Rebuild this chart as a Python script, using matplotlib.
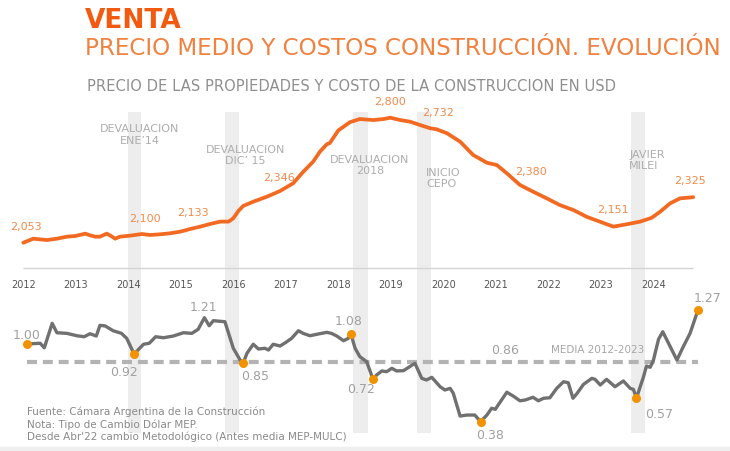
import matplotlib
matplotlib.use('Agg')
import matplotlib.pyplot as plt
from matplotlib.patches import Rectangle
from matplotlib.transforms import blended_transform_factory

# precio medio de venta (USD/m2)
price_years = [2012.00, 2012.19, 2012.32, 2012.45, 2012.64, 2012.83, 2012.99, 2013.18, 2013.27, 2013.37,
               2013.46, 2013.59, 2013.65, 2013.75, 2013.84, 2014.03, 2014.26, 2014.41, 2014.60, 2014.79,
               2014.99, 2015.18, 2015.37, 2015.56, 2015.75, 2015.91, 2016.00, 2016.10, 2016.19, 2016.38,
               2016.64, 2016.89, 2017.14, 2017.33, 2017.52, 2017.65, 2017.78, 2017.84, 2018.00, 2018.22,
               2018.41, 2018.67, 2018.86, 2018.99, 2019.18, 2019.37, 2019.56, 2019.75, 2019.87, 2020.07,
               2020.32, 2020.57, 2020.83, 2021.02, 2021.21, 2021.46, 2021.71, 2021.97, 2022.22, 2022.48,
               2022.73, 2022.98, 2023.24, 2023.49, 2023.75, 2023.97, 2024.13, 2024.32, 2024.51, 2024.73,
               2024.76]
price_vals = [2053, 2077, 2073, 2069, 2077, 2089, 2093, 2107, 2097, 2089,
              2089, 2107, 2097, 2077, 2089, 2095, 2105, 2099, 2103, 2109,
              2119, 2135, 2149, 2165, 2179, 2179, 2199, 2244, 2273, 2298,
              2328, 2362, 2408, 2476, 2537, 2597, 2641, 2649, 2724, 2773,
              2792, 2786, 2792, 2800, 2786, 2776, 2756, 2737, 2731, 2707,
              2657, 2577, 2531, 2517, 2468, 2398, 2358, 2318, 2278, 2248,
              2208, 2179, 2149, 2163, 2179, 2202, 2238, 2288, 2318, 2324,
              2325]
price_label_years = [2012.05, 2014.32, 2015.23, 2016.87, 2018.99, 2019.90, 2021.67, 2023.23, 2024.70]
price_label_vals = [2053, 2100, 2133, 2346, 2800, 2732, 2380, 2151, 2325]

# relacion precio / costo construccion
ratio_years = [2012.07, 2012.32, 2012.40, 2012.55, 2012.64, 2012.83, 2013.02, 2013.16, 2013.27, 2013.39,
               2013.46, 2013.56, 2013.71, 2013.87, 2013.97, 2014.11, 2014.29, 2014.40, 2014.52, 2014.67,
               2014.86, 2015.05, 2015.21, 2015.33, 2015.45, 2015.54, 2015.62, 2015.84, 2016.00, 2016.13,
               2016.19, 2016.26, 2016.38, 2016.48, 2016.60, 2016.67, 2016.76, 2016.89, 2016.99, 2017.11,
               2017.24, 2017.33, 2017.46, 2017.62, 2017.78, 2017.87, 2017.97, 2018.10, 2018.19, 2018.24,
               2018.32, 2018.41, 2018.54, 2018.66, 2018.73, 2018.83, 2018.92, 2019.02, 2019.11, 2019.24,
               2019.46, 2019.59, 2019.68, 2019.78, 2019.94, 2020.03, 2020.13, 2020.19, 2020.32, 2020.45,
               2020.60, 2020.71, 2020.83, 2020.92, 2020.99, 2021.21, 2021.33, 2021.46, 2021.56, 2021.71,
               2021.81, 2021.91, 2022.03, 2022.16, 2022.29, 2022.38, 2022.47, 2022.55, 2022.67, 2022.83,
               2022.89, 2022.99, 2023.11, 2023.27, 2023.43, 2023.56, 2023.62, 2023.68, 2023.81, 2023.87,
               2023.94, 2024.00, 2024.10, 2024.18, 2024.29, 2024.45, 2024.57, 2024.70, 2024.85]
ratio_vals = [1.00, 1.006, 0.970, 1.165, 1.090, 1.085, 1.066, 1.058, 1.082, 1.064,
              1.149, 1.144, 1.106, 1.085, 1.045, 0.92, 0.998, 1.006, 1.058, 1.050,
              1.064, 1.090, 1.085, 1.117, 1.21, 1.146, 1.186, 1.178, 0.966, 0.872,
              0.85, 0.926, 0.998, 0.960, 0.966, 0.952, 0.998, 0.984, 1.010, 1.045,
              1.106, 1.085, 1.066, 1.080, 1.093, 1.085, 1.064, 1.026, 1.045, 1.08,
              0.966, 0.899, 0.859, 0.72, 0.753, 0.785, 0.779, 0.806, 0.785, 0.787,
              0.846, 0.726, 0.713, 0.734, 0.659, 0.633, 0.646, 0.607, 0.425, 0.433,
              0.433, 0.38, 0.433, 0.487, 0.479, 0.615, 0.585, 0.547, 0.553, 0.575,
              0.547, 0.567, 0.571, 0.646, 0.699, 0.691, 0.567, 0.607, 0.678, 0.726,
              0.718, 0.673, 0.718, 0.659, 0.705, 0.646, 0.638, 0.57, 0.734, 0.824,
              0.814, 0.867, 1.038, 1.098, 1.006, 0.872, 0.978, 1.085, 1.27]
dot_years = [2012.07, 2014.11, 2016.19, 2018.24, 2018.66, 2020.71, 2023.68, 2024.85]
dot_vals = [1.00, 0.92, 0.85, 1.08, 0.72, 0.38, 0.57, 1.27]
peak_year, peak_val = 2015.45, 1.21
ratio_mean = 0.86
mean_span = (2012.07, 2024.85)

years = list(range(2012, 2025))

# eventos (franjas grises)
event_spans = [(2013.99, 2014.24), (2015.84, 2016.11), (2018.28, 2018.56), (2019.49, 2019.76), (2023.57, 2023.84)]
event_texts = ["DEVALUACION\nENE\u201914", "DEVALUACION\nDIC\u2019 15", "DEVALUACION\n2018", "INICIO\nCEPO", "JAVIER\nMILEI"]

ORANGE = '#F26A21'
W, H = 730, 451


def fy(px):
    # pixel row (from top) -> figure fraction
    return 1 - px / H


fig = plt.figure(figsize=(W / 100, H / 100), dpi=100)
xlim = (2011.556, 2025.461)

ax_bg = fig.add_axes([0, fy(433), 1, 321 / H])
ax_top = fig.add_axes([0, fy(268), 1, 173 / H])
ax_bot = fig.add_axes([0, fy(445), 1, 155 / H])
for ax in (ax_bg, ax_top, ax_bot):
    ax.set_xlim(*xlim)
    ax.patch.set_alpha(0)
    for s in ax.spines.values():
        s.set_visible(False)
    ax.set_yticks([])
ax_bg.set_zorder(0)
ax_top.set_zorder(2)
ax_bot.set_zorder(2)
ax_bg.set_xticks([])
ax_bot.set_xticks([])

# franjas
for a, b in event_spans:
    ax_bg.axvspan(a, b, color='#ededed', lw=0)

# panel superior: precio
ax_top.set_ylim(1901.8, 2935.7)
ax_top.plot(price_years, price_vals, color=ORANGE, lw=2.7, solid_capstyle='round', solid_joinstyle='round')
ax_top.hlines(1901.8, price_years[0], price_years[-1], color='#d4d4d4', lw=1, clip_on=False)
ax_top.set_xticks(years)
ax_top.set_xticklabels([str(y) for y in years])
ax_top.tick_params(axis='x', length=0, pad=9, labelsize=7, labelcolor='#555555')
for x, v in zip(price_label_years, price_label_vals):
    ax_top.annotate(f"{v:,}", (x, v), xytext=(0, 16), textcoords='offset pixels',
                    ha='center', va='center', fontsize=8, color='#EE8A4A')

# textos de eventos
trans = blended_transform_factory(ax_bg.transData, fig.transFigure)
event_pos = [(2014.22, 135, 'center'), (2016.23, 155.5, 'center'), (2018.60, 165.5, 'center'),
             (2019.67, 178.5, 'left'), (2023.54, 160.5, 'left')]
for (x, ypx, ha), t in zip(event_pos, event_texts):
    ax_bg.text(x, fy(ypx), t, transform=trans, ha=ha, va='center', fontsize=8,
               color='#adadad', linespacing=1.15, multialignment=ha)

# panel inferior: relacion
ax_bot.set_ylim(0.194, 1.431)
ax_bot.hlines(ratio_mean, *mean_span, color='#b3b3b3', lw=3, linestyles=(0, (2.4, 1.4)))
ax_bot.plot(ratio_years, ratio_vals, color='#707070', lw=2.4, solid_joinstyle='round', zorder=3)
ax_bot.plot(dot_years, dot_vals, 'o', color='#F39200', ms=6.5, mec='none', zorder=4)
dot_offsets = [(0, 9), (-10, -18), (12, -14), (-2, 12.5), (-12, -10.5), (9, -14), (23, -17), (10, 12)]
for x, v, (dx, dy) in zip(dot_years, dot_vals, dot_offsets):
    ax_bot.annotate(f"{v:.2f}", (x, v), xytext=(dx, dy), textcoords='offset pixels',
                    ha='center', va='center', fontsize=9, color='#a0a0a0')
ax_bot.annotate(f"{peak_val:.2f}", (peak_year, peak_val), xytext=(-1, 10), textcoords='offset pixels',
                ha='center', va='center', fontsize=9, color='#a0a0a0')
ax_bot.annotate(f"{ratio_mean:.2f}", (2021.18, ratio_mean), xytext=(0, 11.5), textcoords='offset pixels',
                ha='center', va='center', fontsize=9, color='#a0a0a0')
ax_bot.annotate("MEDIA 2012-2023", (2022.94, ratio_mean), xytext=(0, 11.5), textcoords='offset pixels',
                ha='center', va='center', fontsize=7.5, color='#a6a6a6')

# titulos
fig.text(85 / W, fy(28), "VENTA", fontsize=19, fontweight='bold', color='#F25A0F', va='baseline')
fig.text(85 / W, fy(55), "PRECIO MEDIO Y COSTOS CONSTRUCCIÓN. EVOLUCIÓN", fontsize=16.6,
         color='#F0813F', va='baseline')
fig.text(87 / W, fy(91), "PRECIO DE LAS PROPIEDADES Y COSTO DE LA CONSTRUCCION EN USD", fontsize=10.65,
         color='#8f8f8f', va='baseline')

# fuente
notes = ["Fuente: Cámara Argentina de la Construcción",
         "Nota: Tipo de Cambio Dólar MEP.",
         "Desde Abr'22 cambio Metodológico (Antes media MEP-MULC)"]
for t, ypx in zip(notes, [411.7, 425, 436.7]):
    fig.text(27 / W, fy(ypx), t, fontsize=7.5, color='#8a8a8a', va='center')

fig.patches.append(Rectangle((0, 0), 1, 4 / H, transform=fig.transFigure, color='#efefef', zorder=0))

fig.savefig('out.png', dpi=100)
